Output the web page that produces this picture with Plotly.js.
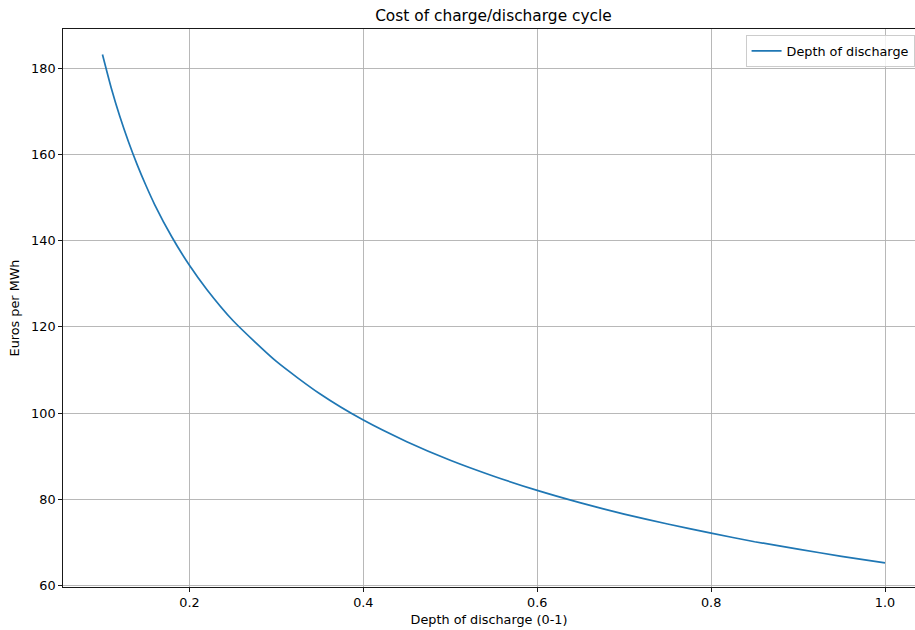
<!DOCTYPE html>
<html>
<head>
<meta charset="utf-8">
<script src="https://cdn.plot.ly/plotly-3.0.1.min.js"></script>
<style>html,body{margin:0;padding:0;background:#fff;}#chart{width:915px;height:630px;}</style>
</head>
<body>
<div id="chart"></div>
<script>
const depthOfDischarge = [0.10, 0.11, 0.12, 0.13, 0.14, 0.15, 0.16, 0.18, 0.20, 0.22, 0.25, 0.30, 0.35, 0.40, 0.45, 0.50, 0.55, 0.60, 0.65, 0.70, 0.75, 0.80, 0.85, 0.90, 0.95, 1.00];
const eurosPerMWh = [183.2, 175.5, 168.8, 162.9, 157.6, 152.8, 148.4, 140.8, 134.3, 128.7, 121.5, 112.0, 104.5, 98.4, 93.4, 89.1, 85.4, 82.1, 79.2, 76.6, 74.3, 72.2, 70.2, 68.5, 66.8, 65.3];
const xTicks = [0.2, 0.4, 0.6, 0.8, 1.0];
const xTickLabels = ["0.2", "0.4", "0.6", "0.8", "1.0"];
const yTicks = [60, 80, 100, 120, 140, 160, 180];
const seriesName = "Depth of discharge";

const font = "DejaVu Sans, sans-serif";
const fs = 12.8;
const trace = {
  x: depthOfDischarge,
  y: eurosPerMWh,
  type: "scatter",
  mode: "lines",
  line: {color: "#1f77b4", width: 1.7, shape: "spline", smoothing: 0.6},
  name: seriesName,
  showlegend: true
};
const layout = {
  width: 915, height: 630,
  margin: {l: 63, r: 0, t: 29, b: 43},
  paper_bgcolor: "#fff", plot_bgcolor: "#fff",
  font: {family: font, size: fs, color: "#000"},
  title: {text: "Cost of charge/discharge cycle", font: {family: font, size: 15.4, color: "#000"},
          xref: "container", x: 0.5393, xanchor: "center", yref: "container", y: 1 - 16/630, yanchor: "middle"},
  xaxis: {
    range: [0.0546, 1.0345],
    tickvals: xTicks, ticktext: xTickLabels,
    ticks: "outside", ticklen: 4, tickwidth: 0.9, tickcolor: "#000",
    showline: true, linecolor: "#000", linewidth: 0.9, mirror: true,
    showgrid: true, gridcolor: "#b0b0b0", gridwidth: 0.9, zeroline: false,
    tickfont: {family: font, size: fs, color: "#000"},
    title: {text: "Depth of discharge (0-1)", font: {family: font, size: fs, color: "#000"}, standoff: 5}
  },
  yaxis: {
    range: [59.7, 189.1],
    tickvals: yTicks,
    ticks: "outside", ticklen: 4, tickwidth: 0.9, tickcolor: "#000",
    showline: true, linecolor: "#000", linewidth: 0.9, mirror: false,
    showgrid: true, gridcolor: "#b0b0b0", gridwidth: 0.9, zeroline: false,
    tickfont: {family: font, size: fs, color: "#000"},
    title: {text: "Euros per MWh", font: {family: font, size: fs, color: "#000"}, standoff: 8}
  },
  showlegend: true,
  legend: {
    x: 0.9995, xanchor: "right", y: 0.989, yanchor: "top",
    bgcolor: "rgba(255,255,255,0.8)", bordercolor: "#cccccc", borderwidth: 1,
    font: {family: font, size: fs, color: "#000"},
    itemwidth: 30
  }
};
Plotly.newPlot("chart", [trace], layout, {displayModeBar: false, staticPlot: true});
</script>
</body>
</html>
